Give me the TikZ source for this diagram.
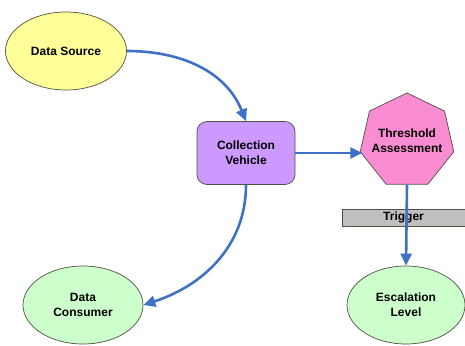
\documentclass[tikz,border=0pt]{standalone}
\usepackage{fontspec}
\setmainfont{Liberation Sans}
\usetikzlibrary{shapes.geometric,arrows.meta}
\definecolor{arrowblue}{HTML}{3F72C6}
\definecolor{yellowfill}{HTML}{FFFF99}
\definecolor{purplefill}{HTML}{CC99FF}
\definecolor{pinkfill}{HTML}{FA8CD2}
\definecolor{greenfill}{HTML}{CCFFCC}
\definecolor{barfill}{HTML}{C0C0C0}
\definecolor{edgegray}{HTML}{505040}
\tikzset{
  lbl/.style={font=\fontsize{12}{15}\selectfont\bfseries, align=center, text=black},
  oval/.style={lbl, ellipse, draw=edgegray, line width=0.7pt, minimum width=#1, minimum height=78pt, inner sep=0pt},
  conn/.style={draw=arrowblue, line width=2.6pt, -{Triangle[length=12pt,width=11pt]}},
}
\begin{document}
\begin{tikzpicture}[x=1pt,y=-1pt]
\useasboundingbox (0,0) rectangle (465,345);
\node[oval=121pt, fill=yellowfill] (ds) at (66,51) {Data Source};
\node[lbl, rectangle, rounded corners=10pt, draw=edgegray, line width=0.7pt, fill=purplefill,
      minimum width=98pt, minimum height=63pt, inner sep=0pt] (cv) at (246,153) {Collection\\Vehicle};
\node[lbl, regular polygon, regular polygon sides=7, minimum size=96pt, inner sep=0pt,
      draw=edgegray, line width=0.7pt, fill=pinkfill] (ta) at (407,141) {};
\node[lbl] (tatext) at (407,141) {Threshold\\Assessment};
\node[oval=120pt, fill=greenfill] (dc) at (83,305) {Data\\Consumer};
\node[oval=118pt, fill=greenfill] (el) at (406,305) {Escalation\\Level};
\node[lbl, rectangle, draw=edgegray, line width=0.7pt, fill=barfill,
      minimum width=123pt, minimum height=17pt, inner sep=0pt] (tr) at (403.5,217.5) {Trigger};
\coordinate (tain) at (cv.east -| ta.west);
\draw[conn] (ds.east) to[out=0, in=112] (cv.north);
\draw[conn] (cv.east) -- (tain);
\draw[conn] (cv.south) to[out=-90, in=18] (dc.east);
\draw[conn] (ta.south) -- (el.north);
\end{tikzpicture}
\end{document}
